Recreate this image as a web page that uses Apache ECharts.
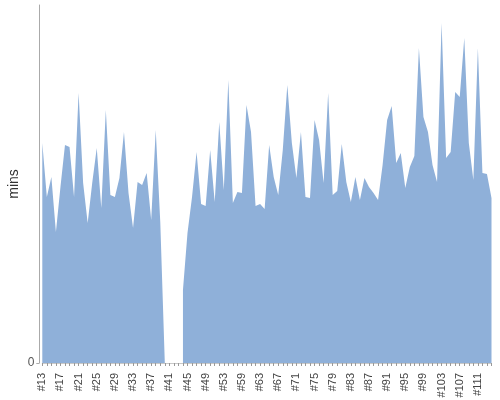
<!DOCTYPE html>
<html>
<head>
<meta charset="utf-8">
<script src="https://cdn.jsdelivr.net/npm/echarts@6/dist/echarts.min.js"></script>
<style>html,body{margin:0;padding:0;background:#fff}#c{width:500px;height:400px}</style>
</head>
<body>
<div id="c"></div>
<script>
// Category labels (#54..#58 partly absent in the source series)
var categories = [];
for (var n = 13; n <= 53; n++) categories.push('#' + n);
categories.push('#54', '#56', '#58');
for (var m = 59; m <= 114; m++) categories.push('#' + m);

// Values (mins, arbitrary scale; axis top = 358)
var valuesA = [220,166,186,131,176,218,216,166,270,180,140,180,215,155,253,168,166,185,231,170,
               135,181,178,190,143,233,141,0,null,null,null,73,130,166,211,159,157,213,161,241];
var valuesB = [173,283,160,171,170,258,231,157,159,154,218,186,168,213,278,220,185,231,166,165,
               243,223,180,270,168,172,219,181,161,186,163,185,176,170,163,198,243,257,200,210];
var valuesC = [175,196,207,315,246,231,198,181,340,205,211,271,266,325,220,183,315,190,189,165];
var values = valuesA.concat(valuesB, valuesC);

var yMax = 358;
var yTickValues = [0];

var chart = echarts.init(document.getElementById('c'), null, {renderer: 'canvas'});
chart.setOption({
  animation: false,
  backgroundColor: '#fff',
  grid: {left: 42.3, right: 8.5, top: 5, bottom: 37, containLabel: false, outerBoundsMode: 'none'},
  xAxis: {
    type: 'category',
    data: categories,
    boundaryGap: false,
    offset: 5,
    axisLine: {show: true, lineStyle: {color: '#c8c8c8', width: 1}},
    axisTick: {show: true, interval: 0, length: 3, alignWithLabel: true, lineStyle: {color: '#999'}},
    axisLabel: {
      interval: 3, rotate: 90, margin: 5,
      color: '#444', fontSize: 11, fontFamily: 'Liberation Sans, Arial, sans-serif'
    },
    splitLine: {show: false}
  },
  yAxis: {
    type: 'value',
    min: 0, max: yMax, interval: yMax,
    offset: 3,
    name: 'mins',
    nameLocation: 'middle',
    nameGap: 18,
    nameMoveOverlap: false,
    nameTextStyle: {color: '#333', fontSize: 14, fontFamily: 'Liberation Sans, Arial, sans-serif'},
    axisLine: {show: true, lineStyle: {color: '#aaa', width: 1}},
    axisTick: {show: true, length: 3, customValues: yTickValues, lineStyle: {color: '#aaa'}},
    axisLabel: {
      customValues: yTickValues,
      color: '#555', fontSize: 12, margin: 5,
      fontFamily: 'Liberation Sans, Arial, sans-serif'
    },
    splitLine: {show: false}
  },
  series: [{
    type: 'line',
    data: values,
    symbol: 'none',
    connectNulls: false,
    lineStyle: {width: 0, color: '#8fb0d9'},
    areaStyle: {color: '#8fb0d9', opacity: 1},
    itemStyle: {color: '#8fb0d9'}
  }]
});
</script>
</body>
</html>
